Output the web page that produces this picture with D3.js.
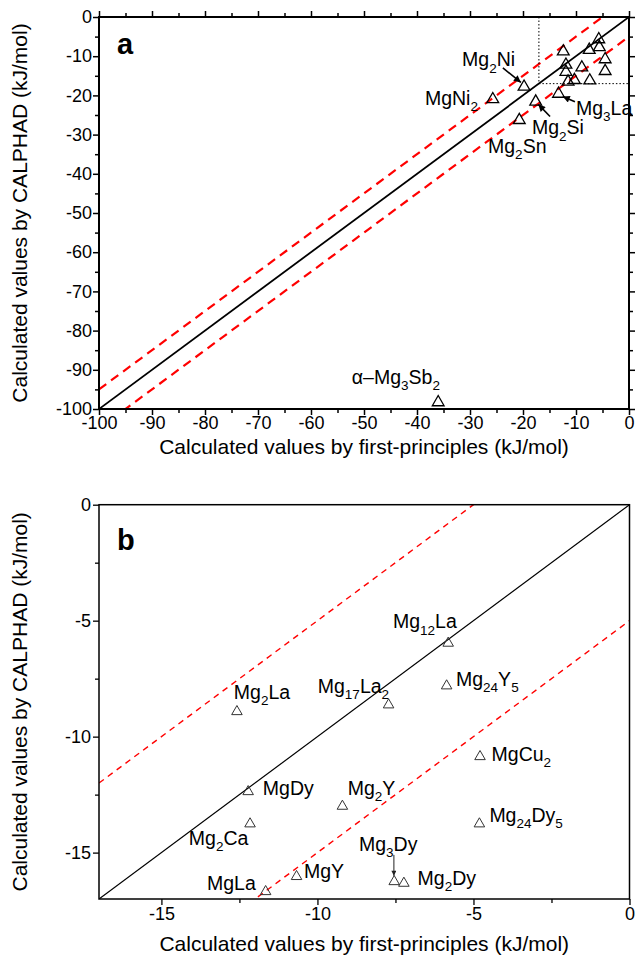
<!DOCTYPE html>
<html><head><meta charset="utf-8">
<script src="https://cdn.jsdelivr.net/npm/d3@7"></script>
<style>body{margin:0;background:#fff} text{font-family:"Liberation Sans",Arial,sans-serif}</style>
</head><body><svg id="c" width="641" height="965"></svg>
<script>
// ---------- DATA ----------
// Panel a: first-principles (x) vs CALPHAD (y), kJ/mol
const aNames = ["Mg_2Ni","MgNi_2","Mg_2Si","Mg_2Sn","Mg_3La","α–Mg_3Sb_2",
  "c1","c2","c3","c4","c5","c6","c7","c8","c9","c10","c11","c12"];
const aX = [-19.8,-25.7,-17.6,-20.7,-13.3,-36.0,
  -12.4,-11.9,-11.9,-8.9,-7.5,-5.7,-5.6,-4.5,-4.5,-11.5,-10.3,-7.4];
const aY = [-17.8,-21.0,-21.6,-26.3,-19.6,-98.3,
  -8.8,-12.2,-14.0,-12.9,-8.4,-5.7,-7.7,-10.8,-13.8,-16.5,-16.1,-16.2];
const aTicks = [-100,-90,-80,-70,-60,-50,-40,-30,-20,-10,0];
const aMinor = [-95,-85,-75,-65,-55,-45,-35,-25,-15,-5];

// Panel b
const bNames = ["Mg_{12}La","Mg_{24}Y_5","Mg_{17}La_2","Mg_2La","MgDy","Mg_2Ca","Mg_2Y",
  "MgY","MgLa","Mg_3Dy","Mg_2Dy","MgCu_2","Mg_{24}Dy_5"];
const bX = [-5.81,-5.86,-7.72,-12.58,-12.22,-12.16,-9.2,-10.67,-11.66,-7.54,-7.23,-4.79,-4.81];
const bY = [-5.97,-7.81,-8.63,-8.92,-12.37,-13.76,-13.0,-16.03,-16.68,-16.25,-16.32,-10.86,-13.76];
const bTicks = [-15,-10,-5,0];
const bMinor = [-17.5,-12.5,-7.5,-2.5];

const offsetBand = 5; // ± kJ/mol dashed guide lines

// ---------- ANNOTATIONS (data units) ----------
const aLabels = [
  {t:"Mg_2Ni", x:-31.5, y:-12.6},
  {t:"MgNi_2", x:-38.5, y:-22.4},
  {t:"Mg_2Si", x:-18.3, y:-29.9},
  {t:"Mg_3La", x:-10.0, y:-24.9},
  {t:"Mg_2Sn", x:-26.6, y:-34.7},
  {t:"α–Mg_3Sb_2", x:-52.3, y:-93.6}
];
const aArrows = [
  {x1:-23.8,y1:-13.0,x2:-20.4,y2:-16.7},
  {x1:-14.9,y1:-25.4,x2:-17.1,y2:-22.3},
  {x1:-10.2,y1:-21.6,x2:-12.5,y2:-20.3}
];
const bLabels = [
  {t:"Mg_{12}La", x:-7.58, y:-5.32},
  {t:"Mg_{17}La_2", x:-9.99, y:-8.12},
  {t:"Mg_2La", x:-12.68, y:-8.37},
  {t:"Mg_{24}Y_5", x:-5.56, y:-7.81},
  {t:"MgCu_2", x:-4.42, y:-11.05},
  {t:"Mg_{24}Dy_5", x:-4.49, y:-13.66},
  {t:"MgDy", x:-11.75, y:-12.51},
  {t:"Mg_2Y", x:-9.03, y:-12.51},
  {t:"Mg_2Ca", x:-14.12, y:-14.67},
  {t:"Mg_3Dy", x:-8.67, y:-14.91},
  {t:"Mg_2Dy", x:-6.79, y:-16.39},
  {t:"MgY", x:-10.43, y:-16.08},
  {t:"MgLa", x:-13.54, y:-16.61}
];
const bArrows = [{x1:-7.55,y1:-15.1,x2:-7.55,y2:-16.0}];

// ---------- DRAW ----------
const svg = d3.select("#c");
const defs = svg.append("defs");
defs.append("marker").attr("id","ahA").attr("viewBox","0 0 10 10").attr("refX",10).attr("refY",5)
  .attr("markerWidth",10).attr("markerHeight",7).attr("markerUnits","userSpaceOnUse").attr("orient","auto")
  .append("path").attr("d","M0,0L10,5L0,10z").attr("fill","#000");
defs.append("marker").attr("id","ahB").attr("viewBox","0 0 10 10").attr("refX",10).attr("refY",5)
  .attr("markerWidth",7).attr("markerHeight",5).attr("markerUnits","userSpaceOnUse").attr("orient","auto")
  .append("path").attr("d","M0,0L10,5L0,10z").attr("fill","#222");

function richText(sel, str, size, subSize) {
  const parts = [];
  let i = 0, buf = "";
  while (i < str.length) {
    if (str[i] === "_") {
      if (buf) { parts.push({s:buf, sub:false}); buf = ""; }
      i++;
      let sub = "";
      if (str[i] === "{") { i++; while (str[i] !== "}") sub += str[i++]; i++; }
      else sub = str[i++];
      parts.push({s:sub, sub:true});
    } else buf += str[i++];
  }
  if (buf) parts.push({s:buf, sub:false});
  let prevSub = false;
  parts.forEach(p => {
    const ts = sel.append("tspan").text(p.s).attr("font-size", p.sub ? subSize : size);
    if (p.sub && !prevSub) ts.attr("dy", size*0.33);
    if (!p.sub && prevSub) ts.attr("dy", -size*0.33);
    prevSub = p.sub;
  });
}

function panel(cfg) {
  const g = svg.append("g");
  const x = d3.scaleLinear().domain(cfg.dom).range([cfg.left, cfg.right]);
  const y = d3.scaleLinear().domain(cfg.dom).range([cfg.bottom, cfg.top]);
  const cid = "clip" + cfg.id;
  defs.append("clipPath").attr("id", cid).append("rect")
    .attr("x", cfg.left).attr("y", cfg.top).attr("width", cfg.right-cfg.left).attr("height", cfg.bottom-cfg.top);

  const pl = g.append("g").attr("clip-path", `url(#${cid})`);
  const [d0, d1] = cfg.dom;
  pl.append("line").attr("x1", x(d0)).attr("y1", y(d0)).attr("x2", x(d1)).attr("y2", y(d1))
    .attr("stroke","#000").attr("stroke-width", cfg.solidW);
  [offsetBand, -offsetBand].forEach(o => {
    pl.append("line").attr("x1", x(d0)).attr("y1", y(d0+o)).attr("x2", x(d1)).attr("y2", y(d1+o))
      .attr("stroke","#ff0000").attr("stroke-width", cfg.dashW).attr("stroke-dasharray", cfg.dash);
  });
  if (cfg.box) {
    pl.append("line").attr("x1", x(cfg.box)).attr("y1", y(0)).attr("x2", x(cfg.box)).attr("y2", y(cfg.box))
      .attr("stroke","#000").attr("stroke-width",1).attr("stroke-dasharray","1.5,2");
    pl.append("line").attr("x1", x(cfg.box)).attr("y1", y(cfg.box)).attr("x2", x(0)).attr("y2", y(cfg.box))
      .attr("stroke","#000").attr("stroke-width",1).attr("stroke-dasharray","1.5,2");
  }
  const sym = d3.symbol(d3.symbolTriangle, cfg.symSize);
  cfg.xs.forEach((v, i) => {
    g.append("path").attr("d", sym()).attr("transform", `translate(${x(v)},${y(cfg.ys[i])})`)
      .attr("fill","none").attr("stroke", cfg.symColor).attr("stroke-width", cfg.symW);
  });
  cfg.labels.forEach(l => {
    const t = g.append("text").attr("x", x(l.x)).attr("y", y(l.y)).attr("fill","#000");
    richText(t, l.t, cfg.labSize, cfg.subSize);
  });
  cfg.arrows.forEach(a => {
    g.append("line").attr("x1", x(a.x1)).attr("y1", y(a.y1)).attr("x2", x(a.x2)).attr("y2", y(a.y2))
      .attr("stroke", cfg.arrowColor).attr("stroke-width", cfg.arrowW).attr("marker-end", `url(#${cfg.arrowMarker})`);
  });

  const fmt = d => String(d);
  const style = (ax) => { ax.select(".domain").remove(); ax.selectAll("line").attr("stroke","#000").attr("stroke-width", cfg.tickW);
    ax.selectAll("text").attr("font-size", cfg.tickFont).attr("font-family", '"Liberation Sans",Arial,sans-serif').attr("fill","#000"); };
  const addAxis = (gen, tr, major, labels) => {
    const A = g.append("g").attr("transform", tr)
      .call(gen.tickValues(major).tickSize(cfg.majorLen).tickSizeOuter(0).tickPadding(cfg.pad).tickFormat(labels ? fmt : ""));
    style(A);
    const M = g.append("g").attr("transform", tr)
      .call(gen.tickValues(cfg.minor.filter(v => v >= d0 && v <= d1)).tickSize(cfg.minorLen).tickSizeOuter(0).tickFormat(""));
    style(M);
    return A;
  };
  addAxis(d3.axisBottom(x), `translate(0,${cfg.bottom})`, cfg.ticks, true);
  addAxis(d3.axisLeft(y), `translate(${cfg.left},0)`, cfg.ticks, true);
  if (cfg.mirror) {
    addAxis(d3.axisTop(x), `translate(0,${cfg.top})`, cfg.ticks, false);
    addAxis(d3.axisRight(y), `translate(${cfg.right},0)`, cfg.ticks, false);
  }
  g.append("rect").attr("x", cfg.left).attr("y", cfg.top).attr("width", cfg.right-cfg.left).attr("height", cfg.bottom-cfg.top)
    .attr("fill","none").attr("stroke","#000").attr("stroke-width", cfg.frameW);

  g.append("text").attr("x", (cfg.left+cfg.right)/2).attr("y", cfg.xTitleY).attr("text-anchor","middle")
    .attr("font-size", cfg.titleFont).text("Calculated values by first-principles (kJ/mol)");
  g.append("text").attr("transform", `translate(${cfg.yTitleX},${(cfg.top+cfg.bottom)/2}) rotate(-90)`).attr("text-anchor","middle")
    .attr("font-size", cfg.titleFont).text("Calculated values by CALPHAD (kJ/mol)");
  g.append("text").attr("x", cfg.left+18).attr("y", cfg.top+cfg.letterDy).attr("font-size", 29).attr("font-weight","bold").text(cfg.letter);
}

panel({id:"a", dom:[-100,0], left:99, right:629, top:17, bottom:409,
  ticks:aTicks, minor:aMinor, xs:aX, ys:aY, labels:aLabels, arrows:aArrows,
  solidW:1.8, dashW:2.2, dash:"9,6", box:-17, symSize:60, symColor:"#000", symW:1.3,
  labSize:19.5, subSize:13.5, arrowColor:"#000", arrowW:1.6, arrowMarker:"ahA",
  tickW:1.5, majorLen:6, minorLen:4, pad:1, tickFont:18, mirror:true, frameW:2,
  xTitleY:454, yTitleX:27, titleFont:21, letter:"a", letterDy:37});

panel({id:"b", dom:[-17,0], left:99, right:629.5, top:504.7, bottom:899,
  ticks:bTicks, minor:bMinor, xs:bX, ys:bY, labels:bLabels, arrows:bArrows,
  solidW:1.2, dashW:1.4, dash:"6,5", box:null, symSize:48, symColor:"#333", symW:1,
  labSize:19.5, subSize:13.5, arrowColor:"#222", arrowW:1, arrowMarker:"ahB",
  tickW:1.3, majorLen:6, minorLen:4, pad:2, tickFont:18, mirror:false, frameW:1.5,
  xTitleY:951, yTitleX:27, titleFont:21, letter:"b", letterDy:45});
</script></body></html>
